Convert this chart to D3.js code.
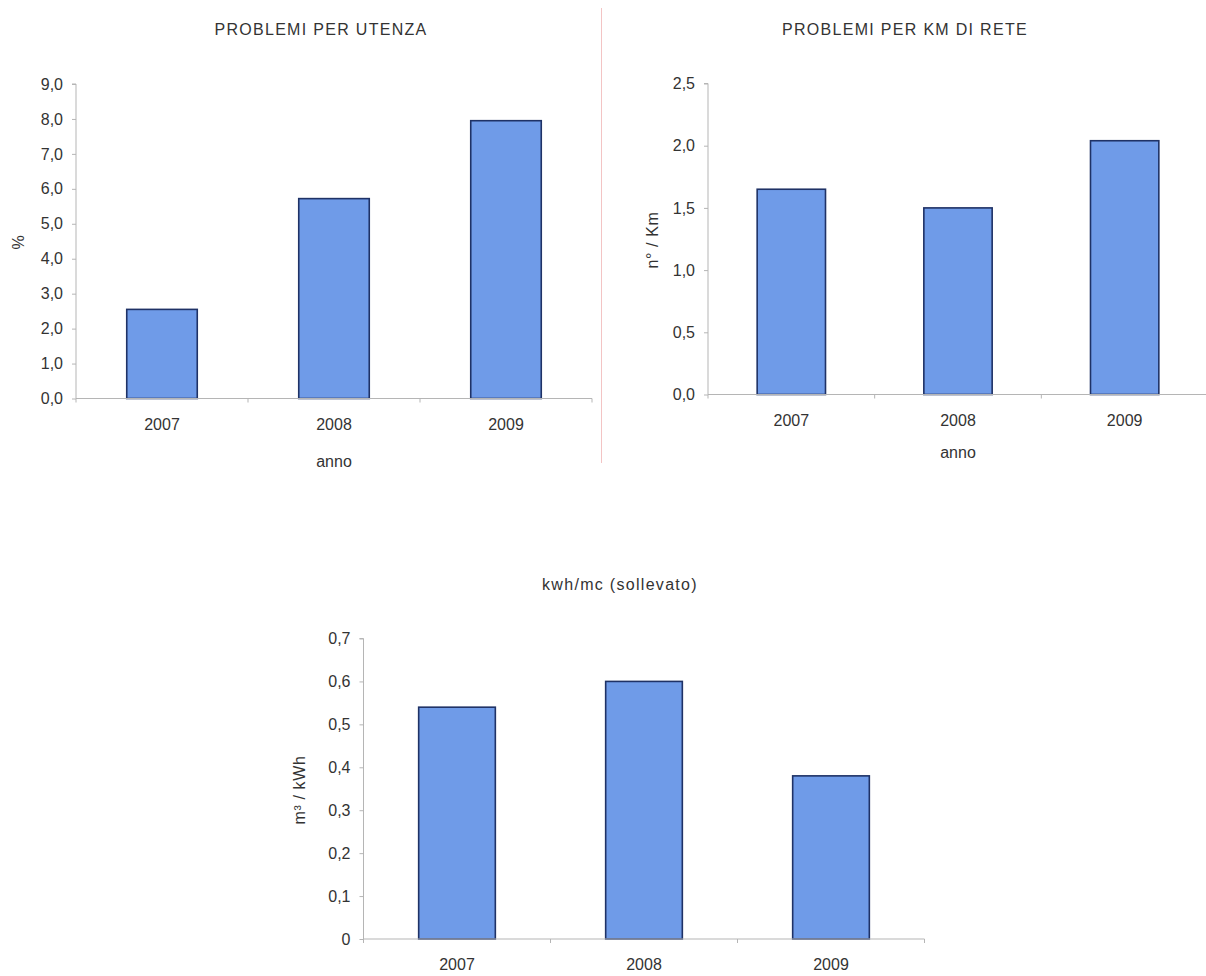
<!DOCTYPE html>
<html>
<head>
<meta charset="utf-8">
<script src="https://cdn.jsdelivr.net/npm/d3@7"></script>
<style>
  html, body { margin: 0; padding: 0; background: #fff; }
  svg { display: block; }
  text { font-family: "Liberation Sans", Arial, sans-serif; fill: #333; }
</style>
</head>
<body>
<svg id="chart" width="1206" height="976"></svg>
<script>
// ---- data ----
const years = ["2007", "2008", "2009"];
const problemiUtenza = [2.55, 5.72, 7.95];
const problemiKm = [1.65, 1.50, 2.04];
const kwhMc = [0.54, 0.60, 0.38];

const ticksUtenza = [0, 1, 2, 3, 4, 5, 6, 7, 8, 9];
const ticksKm = [0, 0.5, 1.0, 1.5, 2.0, 2.5];
const ticksKwh = [0, 0.1, 0.2, 0.3, 0.4, 0.5, 0.6, 0.7];

const titles = ["PROBLEMI PER UTENZA", "PROBLEMI PER KM DI RETE", "kwh/mc (sollevato)"];
const yTitles = ["%", "n° / Km", "m³ / kWh"];
const xTitle = "anno";

// ---- drawing ----
const svg = d3.select("#chart");

// separator line between the two top charts
svg.append("line")
  .attr("x1", 601.5).attr("x2", 601.5).attr("y1", 8).attr("y2", 463)
  .attr("stroke", "#f3c4c4").attr("stroke-width", 1);

const fmt1 = d => d3.format(".1f")(d).replace(".", ",");
const fmtKwh = d => d === 0 ? "0" : d3.format(".1f")(d).replace(".", ",");

function drawChart(cfg) {
  const g = svg.append("g");
  const x = d3.scaleBand().domain(years).range([cfg.x0, cfg.x1])
    .paddingInner(0.59).paddingOuter(0.295);
  const y = d3.scaleLinear().domain([0, cfg.max]).range([cfg.y0, cfg.yTop]);

  // y axis
  const yAxis = g.append("g").attr("transform", `translate(${cfg.x0},0)`)
    .call(d3.axisLeft(y).tickValues(cfg.ticks).tickFormat(cfg.fmt).tickSize(4).tickPadding(9));
  yAxis.select(".domain").attr("stroke", "#b5b5b5").attr("d", `M-4,${cfg.yTop}H0V${cfg.y0}`);
  yAxis.selectAll(".tick line").attr("stroke", "#b5b5b5");
  yAxis.selectAll(".tick text").style("font-size", "16px").attr("fill", "#333")
    .style("font-family", "'Liberation Sans', Arial, sans-serif");

  // bars
  g.selectAll("rect.bar").data(cfg.values).join("rect")
    .attr("class", "bar")
    .attr("x", (d, i) => x(years[i]))
    .attr("width", x.bandwidth())
    .attr("y", d => y(d))
    .attr("height", d => cfg.y0 - y(d))
    .attr("fill", "#6f9be8")
    .attr("stroke", "#1f3266")
    .attr("stroke-width", 1.6);

  // x axis line and ticks at band boundaries
  const step = x.step();
  g.append("line").attr("x1", cfg.x0).attr("x2", cfg.x1)
    .attr("y1", cfg.y0).attr("y2", cfg.y0)
    .attr("stroke", "#b5b5b5").attr("stroke-width", 1);
  g.selectAll("line.xt").data(d3.range(0, years.length + 1)).join("line")
    .attr("class", "xt")
    .attr("x1", i => cfg.x0 + i * step).attr("x2", i => cfg.x0 + i * step)
    .attr("y1", cfg.y0).attr("y2", cfg.y0 + 4)
    .attr("stroke", "#b5b5b5");

  // x tick labels
  g.selectAll("text.xl").data(years).join("text")
    .attr("class", "xl")
    .attr("x", d => x(d) + x.bandwidth() / 2)
    .attr("y", cfg.y0 + 31)
    .attr("text-anchor", "middle")
    .style("font-size", "16px")
    .text(d => d);

  // title
  g.append("text").attr("x", cfg.titleX).attr("y", cfg.titleY)
    .attr("text-anchor", "middle").style("font-size", "16px")
    .style("letter-spacing", "1.3px")
    .text(cfg.title);

  // y title
  g.append("text")
    .attr("transform", `translate(${cfg.yTitleX},${cfg.yTitleY}) rotate(-90)`)
    .attr("text-anchor", "middle").style("font-size", "16px")
    .style("letter-spacing", "0.6px")
    .text(cfg.yTitle);

  // x title
  if (cfg.xTitleY) {
    g.append("text").attr("x", cfg.xTitleX).attr("y", cfg.xTitleY)
      .attr("text-anchor", "middle").style("font-size", "16px")
      .text(xTitle);
  }
}

drawChart({
  values: problemiUtenza, ticks: ticksUtenza, max: 9, fmt: fmt1,
  x0: 76, x1: 592, y0: 398.5, yTop: 84,
  title: titles[0], titleX: 321, titleY: 35,
  yTitle: yTitles[0], yTitleX: 24, yTitleY: 242,
  xTitleX: 334, xTitleY: 467
});

drawChart({
  values: problemiKm, ticks: ticksKm, max: 2.5, fmt: fmt1,
  x0: 708, x1: 1208, y0: 394.5, yTop: 83.5,
  title: titles[1], titleX: 905, titleY: 35,
  yTitle: yTitles[1], yTitleX: 658, yTitleY: 240,
  xTitleX: 958, xTitleY: 458
});

drawChart({
  values: kwhMc, ticks: ticksKwh, max: 0.7, fmt: fmtKwh,
  x0: 363.5, x1: 924.5, y0: 939, yTop: 638.5,
  title: titles[2], titleX: 620, titleY: 590,
  yTitle: yTitles[2], yTitleX: 305, yTitleY: 790,
  xTitleX: null, xTitleY: null
});
</script>
</body>
</html>
